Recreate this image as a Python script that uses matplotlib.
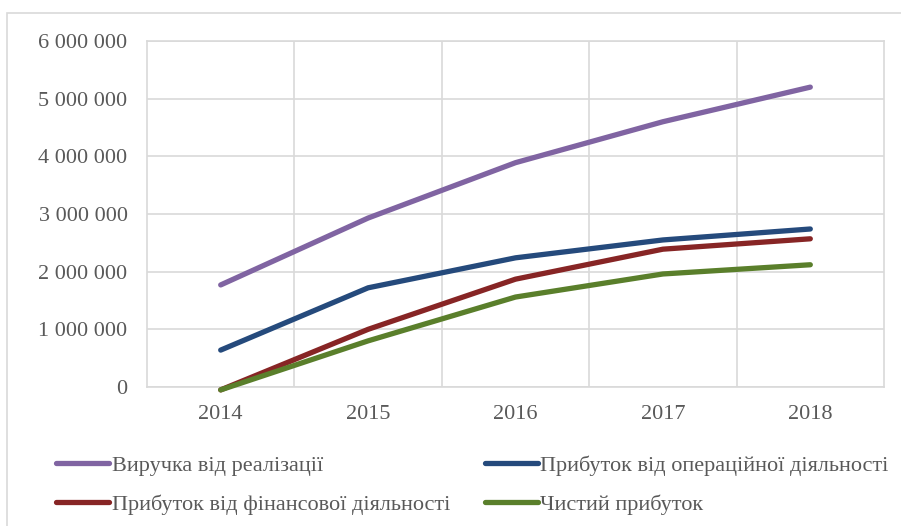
import matplotlib.pyplot as plt
from matplotlib.patches import Rectangle
from matplotlib.ticker import FuncFormatter

plt.rcParams['font.family'] = ['Liberation Serif', 'DejaVu Serif']

years = ['2014', '2015', '2016', '2017', '2018']
revenue = [1770000, 2930000, 3890000, 4600000, 5200000]
operating = [640000, 1720000, 2240000, 2550000, 2740000]
financial = [-50000, 1000000, 1870000, 2390000, 2570000]
net_profit = [-50000, 800000, 1560000, 1960000, 2120000]

labels = ['Виручка від реалізації', 'Прибуток від операційної діяльності',
          'Прибуток від фінансової діяльності', 'Чистий прибуток']
colors = ['#8064A2', '#254A7C', '#872525', '#5A7F2B']

fig = plt.figure(figsize=(9.01, 5.26), dpi=100)
ax = fig.add_axes([147 / 901, 1 - 387 / 526, 737 / 901, 346 / 526])

# chart area frame
fig.patches.append(Rectangle((7 / 901, -0.05), 1.0, 1 - 13 / 526 + 0.05,
                             transform=fig.transFigure, fill=False,
                             edgecolor='#d9d9d9', linewidth=1.2))

x = range(len(years))
series = [revenue, operating, financial, net_profit]
for vals, lab, col in zip(series, labels, colors):
    ax.plot(x, vals, color=col, linewidth=3.8, label=lab,
            solid_capstyle='round', clip_on=False, zorder=3)

ax.set_xlim(-0.5, len(years) - 0.5)
ax.set_ylim(0, 6000000)
ax.set_yticks(range(0, 6000001, 1000000))
ax.yaxis.set_major_formatter(FuncFormatter(lambda v, p: f'{int(v):,}'.replace(',', ' ')))
ax.set_xticks(list(x))
ax.set_xticklabels(years)
ax.set_xticks([i + 0.5 for i in range(len(years) - 1)], minor=True)

ax.grid(True, which='major', axis='y', color='#d9d9d9', linewidth=1.2)
ax.grid(True, which='minor', axis='x', color='#d9d9d9', linewidth=1.2)
ax.tick_params(which='both', length=0, labelsize=16, colors='#595959')
ax.tick_params(axis='x', pad=13)
ax.tick_params(axis='y', pad=14)
for s in ax.spines.values():
    s.set_color('#d9d9d9')
    s.set_linewidth(1.2)

handles, labs = ax.get_legend_handles_labels()
order = [0, 2, 1, 3]
leg = fig.legend([handles[i] for i in order], [labs[i] for i in order],
                 ncol=2, loc='upper left', bbox_to_anchor=(56 / 901, 1 - 455 / 526),
                 frameon=False, fontsize=16, handlelength=2.4, handletextpad=0.1,
                 columnspacing=1.57, labelspacing=0.85, borderaxespad=0,
                 borderpad=0)
for t in leg.get_texts():
    t.set_color('#595959')

fig.savefig('out.png', dpi=100)
